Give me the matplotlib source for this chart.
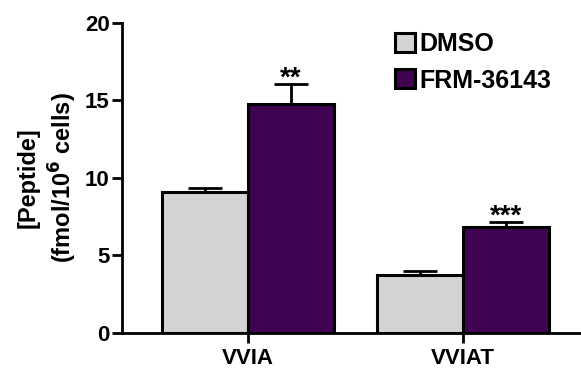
import numpy as np
import matplotlib.pyplot as plt

plt.rcParams['font.family'] = ['Liberation Sans', 'DejaVu Sans']
plt.rcParams['font.weight'] = 'bold'

# data
categories = ["VVIA", "VVIAT"]
groups = ["DMSO", "FRM-36143"]
dmso_mean = [9.1, 3.75]
dmso_err = [0.25, 0.28]
frm_mean = [14.8, 6.85]
frm_err = [1.25, 0.3]
stars = ["**", "***"]

colors = ["#d3d3d3", "#400452"]

fig = plt.figure(figsize=(5.81, 3.70), dpi=100)
ax = fig.add_axes([0.21, 0.10, 0.788, 0.838])

x = np.arange(len(categories))
w = 0.4

ax.bar(x - w / 2, dmso_mean, w, color=colors[0], edgecolor="black", linewidth=2.2,
       label=groups[0], zorder=2)
ax.bar(x + w / 2, frm_mean, w, color=colors[1], edgecolor="black", linewidth=2.2,
       label=groups[1], zorder=2)

# error bars (upper only)
ax.errorbar(x - w / 2, dmso_mean, yerr=[np.zeros(2), dmso_err], fmt="none",
            ecolor="black", elinewidth=2, capsize=12, capthick=2, zorder=1)
ax.errorbar(x + w / 2, frm_mean, yerr=[np.zeros(2), frm_err], fmt="none",
            ecolor="black", elinewidth=2, capsize=12, capthick=2, zorder=1)

# significance stars
for i in range(len(categories)):
    ax.text(x[i] + w / 2, frm_mean[i] + frm_err[i] - 0.5, stars[i],
            ha="center", va="bottom", fontsize=20, fontweight="bold")

ax.set_xlim(-0.586, 1.545)
ax.set_ylim(0, 20)
ax.set_yticks([0, 5, 10, 15, 20])
ax.set_xticks(x)
ax.set_xticklabels(categories)

ax.spines["top"].set_visible(False)
ax.spines["right"].set_visible(False)
ax.spines["left"].set_linewidth(2)
ax.spines["bottom"].set_linewidth(2)
ax.tick_params(axis="both", width=2, length=7, labelsize=16)
ax.tick_params(axis="y", pad=2)

ax.set_ylabel("[Peptide]\n(fmol/10$^{\\mathbf{6}}$ cells)", fontsize=17,
              fontweight="bold", labelpad=4, linespacing=1.3)

ax.legend(loc="upper left", bbox_to_anchor=(395 / 581, 1 - 32 / 370),
          bbox_transform=fig.transFigure, frameon=False, fontsize=18,
          handlelength=0.78, handleheight=0.78, handletextpad=0.2,
          labelspacing=0.5, borderpad=0, borderaxespad=0)

plt.savefig("out.png", dpi=100)
